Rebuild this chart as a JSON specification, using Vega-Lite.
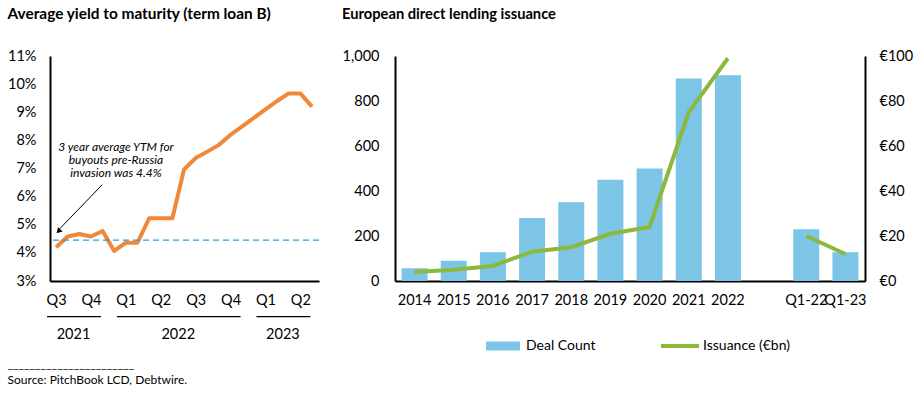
{
  "$schema": "https://vega.github.io/schema/vega-lite/v6.json",
  "background": "white",
  "padding": {"left": 7, "top": 6, "right": 5, "bottom": 2},
  "config": {
    "font": "Lato",
    "view": {"stroke": null},
    "axis": {"grid": false, "ticks": false, "domainColor": "#000", "domainWidth": 2, "labelColor": "#000", "labelFontSize": 14.5, "labelOverlap": false},
    "legend": {"labelFontSize": 14, "labelColor": "#000", "layout": {"bottom": {"anchor": "middle", "direction": "horizontal", "margin": 63}}}
  },
  "title": {
    "text": ["_______________________", "Source:  PitchBook LCD, Debtwire."],
    "orient": "bottom", "anchor": "start", "frame": "bounds",
    "fontSize": 12, "fontWeight": "normal", "lineHeight": 16, "offset": 5, "color": "#000"
  },
  "resolve": {"legend": {"color": "independent", "stroke": "independent"}},
  "spacing": 22,
  "hconcat": [
    {
      "width": 269,
      "height": 225,
      "title": {"text": "Average yield to maturity (term loan B)", "anchor": "start", "frame": "bounds", "fontSize": 15.4, "fontWeight": "bold", "color": "#000", "offset": 26},
      "layer": [
        {
          "data": {"values": [
            {"t": 0, "ytm": 4.2}, {"t": 1, "ytm": 4.58}, {"t": 2, "ytm": 4.67}, {"t": 3, "ytm": 4.58},
            {"t": 4, "ytm": 4.78}, {"t": 5, "ytm": 4.07}, {"t": 6, "ytm": 4.36}, {"t": 7, "ytm": 4.36},
            {"t": 8, "ytm": 5.23}, {"t": 9, "ytm": 5.23}, {"t": 10, "ytm": 5.23}, {"t": 11, "ytm": 6.97},
            {"t": 12, "ytm": 7.37}, {"t": 13, "ytm": 7.6}, {"t": 14, "ytm": 7.84}, {"t": 15, "ytm": 8.2},
            {"t": 16, "ytm": 8.5}, {"t": 17, "ytm": 8.8}, {"t": 18, "ytm": 9.1}, {"t": 19, "ytm": 9.4},
            {"t": 20, "ytm": 9.67}, {"t": 21, "ytm": 9.67}, {"t": 22, "ytm": 9.2}
          ]},
          "mark": {"type": "line", "color": "#F0883A", "strokeWidth": 4, "strokeJoin": "round"},
          "encoding": {
            "x": {"field": "t", "type": "quantitative", "title": null,
              "scale": {"domain": [-0.52, 22.6], "nice": false, "zero": false},
              "axis": {"values": [0, 3, 6, 9, 12, 15, 18, 21], "labelExpr": "['Q3','Q4','Q1','Q2','Q3','Q4','Q1','Q2'][round(datum.value/3)]", "labelPadding": 12, "labelOverlap": false, "labelFlush": false}},
            "y": {"field": "ytm", "type": "quantitative", "title": null,
              "scale": {"domain": [3, 11], "nice": false, "zero": false},
              "axis": {"values": [3, 4, 5, 6, 7, 8, 9, 10, 11], "labelExpr": "datum.value + '%'", "labelPadding": 14, "labelOverlap": false, "labelFlush": false}}
          }
        },
        {
          "data": {"values": [{"avg": 4.45}]},
          "mark": {"type": "rule", "color": "#2E9BD6", "strokeDash": [6, 4], "strokeWidth": 1.3},
          "encoding": {"y": {"field": "avg", "type": "quantitative", "title": null,
              "axis": {"values": [3, 4, 5, 6, 7, 8, 9, 10, 11], "labelExpr": "datum.value + '%'", "labelPadding": 14, "labelOverlap": false, "labelFlush": false}}}
        },
        {
          "data": {"values": [{"note": "3 year average YTM for\nbuyouts pre-Russia\ninvasion was 4.4%"}]},
          "layer": [
            {
              "mark": {"type": "text", "fontStyle": "italic", "fontSize": 12, "lineBreak": "\n", "lineHeight": 13, "align": "center", "baseline": "middle", "color": "#000"},
              "encoding": {
                "x": {"datum": 5.15, "title": null, "axis": {"values": [0, 3, 6, 9, 12, 15, 18, 21], "labelExpr": "['Q3','Q4','Q1','Q2','Q3','Q4','Q1','Q2'][round(datum.value/3)]", "labelPadding": 12, "labelOverlap": false, "labelFlush": false}},
                "y": {"datum": 7.77, "title": null, "axis": {"values": [3, 4, 5, 6, 7, 8, 9, 10, 11], "labelExpr": "datum.value + '%'", "labelPadding": 14, "labelOverlap": false, "labelFlush": false}},
                "text": {"field": "note"}}
            },
            {
              "mark": {"type": "rule", "color": "#000", "strokeWidth": 1},
              "encoding": {
                "x": {"datum": 3.96, "title": null, "axis": {"values": [0, 3, 6, 9, 12, 15, 18, 21], "labelExpr": "['Q3','Q4','Q1','Q2','Q3','Q4','Q1','Q2'][round(datum.value/3)]", "labelPadding": 12, "labelOverlap": false, "labelFlush": false}},
                "y": {"datum": 6.42, "title": null, "axis": {"values": [3, 4, 5, 6, 7, 8, 9, 10, 11], "labelExpr": "datum.value + '%'", "labelPadding": 14, "labelOverlap": false, "labelFlush": false}},
                "x2": {"datum": 0.3}, "y2": {"datum": 4.85}}
            },
            {
              "mark": {"type": "point", "shape": "triangle", "angle": 223, "filled": true, "color": "#000", "size": 40, "opacity": 1},
              "encoding": {
                "x": {"datum": 0.26, "title": null, "axis": {"values": [0, 3, 6, 9, 12, 15, 18, 21], "labelExpr": "['Q3','Q4','Q1','Q2','Q3','Q4','Q1','Q2'][round(datum.value/3)]", "labelPadding": 12, "labelOverlap": false, "labelFlush": false}},
                "y": {"datum": 4.79, "title": null, "axis": {"values": [3, 4, 5, 6, 7, 8, 9, 10, 11], "labelExpr": "datum.value + '%'", "labelPadding": 14, "labelOverlap": false, "labelFlush": false}}}
            }
          ]
        },
        {
          "data": {"values": [
            {"q": "Q3", "year": "2021", "t": 0}, {"q": "Q4", "year": "2021", "t": 3},
            {"q": "Q1", "year": "2022", "t": 6}, {"q": "Q2", "year": "2022", "t": 9},
            {"q": "Q3", "year": "2022", "t": 12}, {"q": "Q4", "year": "2022", "t": 15},
            {"q": "Q1", "year": "2023", "t": 18}, {"q": "Q2", "year": "2023", "t": 21}
          ]},
          "layer": [
            {
              "mark": {"type": "rule", "color": "#000", "strokeWidth": 1.2, "xOffset": -9, "x2Offset": 10},
              "encoding": {
                "x": {"aggregate": "min", "field": "t", "type": "quantitative", "title": null, "axis": {"values": [0, 3, 6, 9, 12, 15, 18, 21], "labelExpr": "['Q3','Q4','Q1','Q2','Q3','Q4','Q1','Q2'][round(datum.value/3)]", "labelPadding": 12, "labelOverlap": false, "labelFlush": false}},
                "x2": {"aggregate": "max", "field": "t"},
                "y": {"datum": 1.73, "title": null, "axis": {"values": [3, 4, 5, 6, 7, 8, 9, 10, 11], "labelExpr": "datum.value + '%'", "labelPadding": 14, "labelOverlap": false, "labelFlush": false}},
                "detail": {"field": "year"}
              }
            },
            {
              "mark": {"type": "text", "fontSize": 14.5, "color": "#000", "baseline": "middle"},
              "encoding": {
                "x": {"aggregate": "mean", "field": "t", "type": "quantitative", "title": null, "axis": {"values": [0, 3, 6, 9, 12, 15, 18, 21], "labelExpr": "['Q3','Q4','Q1','Q2','Q3','Q4','Q1','Q2'][round(datum.value/3)]", "labelPadding": 12, "labelOverlap": false, "labelFlush": false}},
                "y": {"datum": 1.08, "title": null, "axis": {"values": [3, 4, 5, 6, 7, 8, 9, 10, 11], "labelExpr": "datum.value + '%'", "labelPadding": 14, "labelOverlap": false, "labelFlush": false}},
                "text": {"field": "year"}
              }
            }
          ]
        }
      ]
    },
    {
      "width": 470,
      "height": 225,
      "title": {"text": "European direct lending issuance", "anchor": "start", "frame": "bounds", "fontSize": 14.7, "fontWeight": "bold", "color": "#000", "offset": 26},
      "data": {"values": [
        {"period": "2014", "deals": 57, "issuance": 4, "series": "annual"},
        {"period": "2015", "deals": 90, "issuance": 5, "series": "annual"},
        {"period": "2016", "deals": 128, "issuance": 6.7, "series": "annual"},
        {"period": "2017", "deals": 280, "issuance": 13, "series": "annual"},
        {"period": "2018", "deals": 350, "issuance": 15, "series": "annual"},
        {"period": "2019", "deals": 450, "issuance": 21, "series": "annual"},
        {"period": "2020", "deals": 500, "issuance": 24, "series": "annual"},
        {"period": "2021", "deals": 900, "issuance": 75, "series": "annual"},
        {"period": "2022", "deals": 915, "issuance": 99, "series": "annual"},
        {"period": "Q1-22", "deals": 230, "issuance": 20, "series": "quarterly"},
        {"period": "Q1-23", "deals": 128, "issuance": 12, "series": "quarterly"}
      ]},
      "encoding": {
        "x": {"field": "period", "type": "nominal", "title": null,
          "scale": {"domain": ["2014", "2015", "2016", "2017", "2018", "2019", "2020", "2021", "2022", " ", "Q1-22", "Q1-23"], "paddingInner": 0.336, "paddingOuter": 0.168},
          "axis": {"labelAngle": 0, "labelPadding": 12, "labelOverlap": false}}
      },
      "layer": [
        {
          "mark": {"type": "bar"},
          "encoding": {
            "y": {"field": "deals", "type": "quantitative", "title": null,
              "scale": {"domain": [0, 1000], "nice": false},
              "axis": {"values": [0, 200, 400, 600, 800, 1000], "format": ",.0f", "labelPadding": 16, "orient": "left", "labelOverlap": false, "labelFlush": false}},
            "color": {"datum": "Deal Count", "type": "nominal",
              "scale": {"range": ["#7DC5E6"]},
              "legend": {"title": null, "orient": "bottom", "symbolType": "M1.8,-0.9H8.6V0.9H1.8Z", "symbolSize": 100, "symbolStrokeWidth": 0, "offset": 32, "labelOffset": 42}}
          }
        },
        {
          "mark": {"type": "line", "strokeWidth": 4},
          "encoding": {
            "y": {"field": "issuance", "type": "quantitative", "title": null,
              "scale": {"domain": [0, 100], "nice": false},
              "axis": {"values": [0, 20, 40, 60, 80, 100], "labelExpr": "'€' + datum.value", "labelPadding": 14, "orient": "right", "labelOverlap": false, "labelFlush": false}},
            "stroke": {"datum": "Issuance (€bn)", "type": "nominal",
              "scale": {"range": ["#8CB93C"]},
              "legend": {"title": null, "orient": "bottom", "symbolType": "M-1,0H6.6", "symbolSize": 100, "symbolStrokeWidth": 4, "offset": 32, "labelOffset": 30}},
            "detail": {"field": "series"}
          }
        }
      ],
      "resolve": {"scale": {"y": "independent"}}
    }
  ]
}
